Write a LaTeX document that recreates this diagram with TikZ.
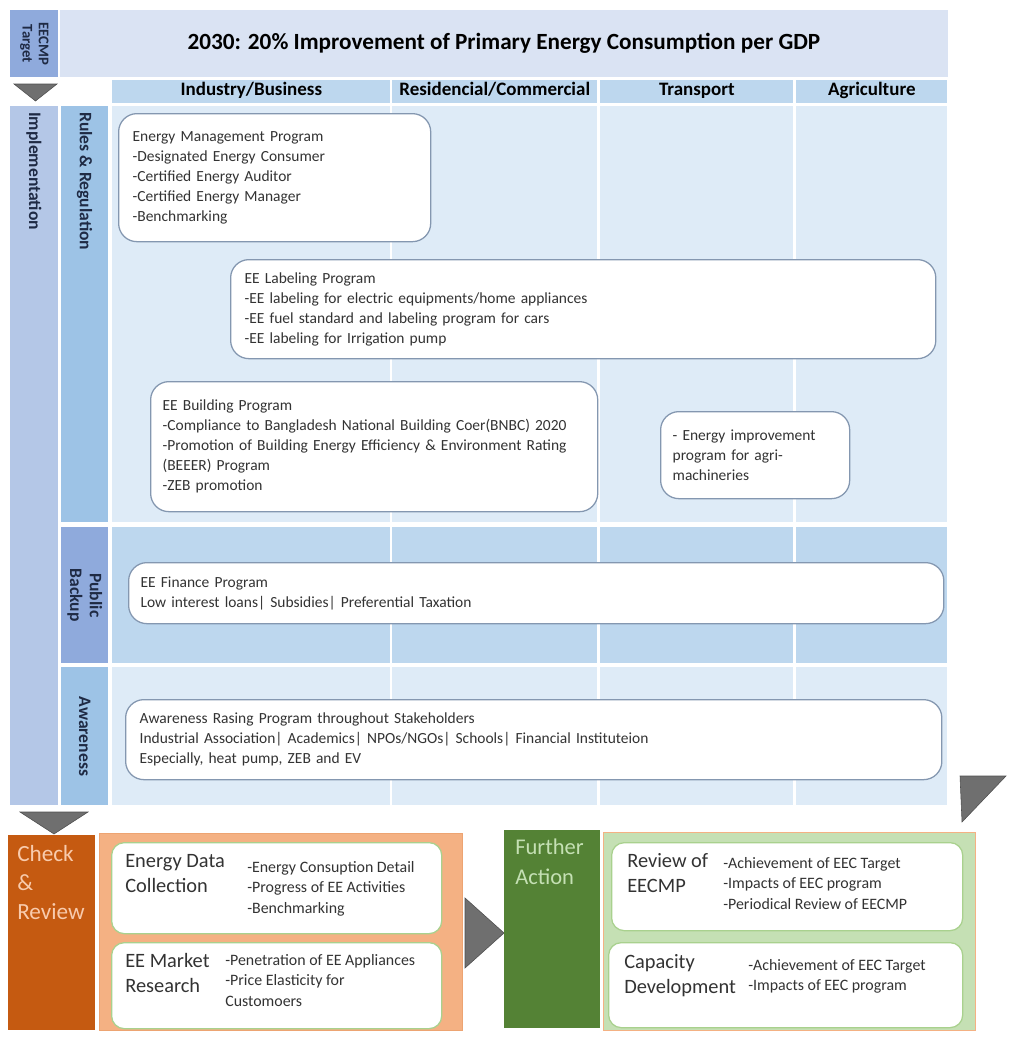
\documentclass[tikz,border=0pt]{standalone}
\usepackage{fontspec}
\setmainfont{Carlito}
\usepackage{tikz}
\usetikzlibrary{positioning, calc}
\definecolor{banner}{HTML}{DAE3F3}
\definecolor{targetblue}{HTML}{8FAADC}
\definecolor{headblue}{HTML}{BDD7EE}
\definecolor{cellblue}{HTML}{DEEBF7}
\definecolor{implblue}{HTML}{B4C7E7}
\definecolor{ruleblue}{HTML}{9DC3E6}
\definecolor{boxline}{HTML}{8497B0}
\definecolor{arrowgray}{HTML}{6F6F6F}
\definecolor{checkorange}{HTML}{C55A11}
\definecolor{checktext}{HTML}{F8CBAD}
\definecolor{salmon}{HTML}{F4B183}
\definecolor{actiongreen}{HTML}{548235}
\definecolor{palegreen}{HTML}{C5E0B4}
\definecolor{leafline}{HTML}{A9D18E}
\definecolor{inkgray}{HTML}{333333}
\definecolor{navyink}{HTML}{1F2A44}

\begin{document}
\begin{tikzpicture}[
        x=0.025cm, y=-0.025cm,
        cell/.style={rectangle, inner sep=0pt, anchor=north west},
        colhead/.style={cell, fill=headblue, minimum height=0.575cm, text height=0.7em, text depth=0.2em, font=\fontsize{13.5}{15}\selectfont\bfseries},
        vlabel/.style={rotate=-90, inner sep=0pt, align=center, text=navyink, font=\fontsize{12.5}{14}\selectfont\bfseries},
        prog/.style={rectangle, draw=boxline, fill=white, line width=0.9pt, rounded corners=13pt, anchor=north west, align=left, inner xsep=0.35cm, inner ysep=0pt, text=inkgray, font=\fontsize{11}{14.2}\selectfont},
        tri/.style={fill=arrowgray, draw=arrowgray!70!black, line width=0.4pt},
        subbox/.style={rectangle, draw=leafline, fill=white, line width=0.9pt, rounded corners=9pt, anchor=north west, inner sep=0pt},
        subhead/.style={anchor=north west, inner sep=0pt, align=left, text=inkgray, font=\fontsize{14.5}{18}\selectfont},
        sublist/.style={anchor=north west, inner sep=0pt, align=left, text=inkgray, font=\fontsize{11.3}{14.5}\selectfont}
    ]
        \useasboundingbox (0,0) rectangle (1012,1039);

        % target
        \node [cell, fill=targetblue, minimum width=1.2cm, minimum height=1.675cm] (target) at (10,10) {};
        \node [vlabel, font=\fontsize{10.5}{11.5}\selectfont\bfseries] (targettxt) at (target.center) {EECMP\\Target};
        \node [cell, fill=banner, minimum width=22.175cm, minimum height=1.675cm, font=\fontsize{16.5}{18}\selectfont\bfseries] (goal) at (60,10) {2030: 20\% Improvement of Primary Energy Consumption per GDP};
        \draw [tri] (14,84) -- (57,84) -- (35.5,101) -- cycle;

        % sectors
        \node [colhead, minimum width=6.95cm] (hind) at (112,80) {Industry/Business};
        \node [colhead, minimum width=5.125cm] (hres) at (392,80) {Residencial/Commercial};
        \node [colhead, minimum width=4.825cm] (htra) at (600,80) {Transport};
        \node [colhead, minimum width=3.775cm] (hagr) at (796,80) {Agriculture};

        \fill [cellblue] (112,106) rectangle (390,522);
        \fill [cellblue] (392,106) rectangle (597,522);
        \fill [cellblue] (600,106) rectangle (793,522);
        \fill [cellblue] (796,106) rectangle (947,522);
        \fill [headblue] (112,527) rectangle (390,663);
        \fill [headblue] (392,527) rectangle (597,663);
        \fill [headblue] (600,527) rectangle (793,663);
        \fill [headblue] (796,527) rectangle (947,663);
        \fill [cellblue] (112,667) rectangle (390,805);
        \fill [cellblue] (392,667) rectangle (597,805);
        \fill [cellblue] (600,667) rectangle (793,805);
        \fill [cellblue] (796,667) rectangle (947,805);

        % implementation
        \node [cell, fill=implblue, minimum width=1.2cm, minimum height=17.475cm] (impl) at (10,106) {};
        \node [vlabel, anchor=west] (impltxt) at (34,112) {Implementation};
        \node [cell, fill=ruleblue, minimum width=1.175cm, minimum height=10.4cm] (rules) at (61,106) {};
        \node [vlabel, anchor=west] (rulestxt) at (84.5,112) {Rules \& Regulation};
        \node [cell, fill=targetblue, minimum width=1.175cm, minimum height=3.4cm] (backup) at (61,527) {};
        \node [vlabel] (backuptxt) at (backup.center) {Public\\Backup};
        \node [cell, fill=ruleblue, minimum width=1.175cm, minimum height=3.45cm] (aware) at (61,667) {};
        \node [vlabel] (awaretxt) at (aware.center) {Awareness};

        \node [prog, text width=7.1cm, minimum height=3.2cm] (emp) at (118,113) {Energy Management Program\\-Designated Energy Consumer\\-Certified Energy Auditor\\-Certified Energy Manager\\-Benchmarking};
        \node [prog, text width=16.925cm, minimum height=2.475cm] (labeling) at (230,259) {EE Labeling Program\\-EE labeling for electric equipments/home appliances\\-EE fuel standard and labeling program for cars\\-EE labeling for Irrigation pump};
        \node [prog, inner xsep=0.3cm, text width=10.575cm, minimum height=3.25cm] (building) at (150,381) {EE Building Program\\-Compliance to Bangladesh National Building Coer(BNBC) 2020\\-Promotion of Building Energy Efficiency \& Environment Rating\\(BEEER) Program\\-ZEB promotion};
        \node [prog, inner xsep=0.3cm, text width=4.125cm, minimum height=2.175cm] (agri) at (660,411) {- Energy improvement\\program for agri-\\machineries};
        \node [prog, inner xsep=0.3cm, text width=19.775cm, minimum height=1.525cm] (finance) at (128,562) {EE Finance Program\\Low interest loans| Subsidies| Preferential Taxation};
        \node [prog, text width=19.7cm, minimum height=2cm] (raising) at (125,699) {Awareness Rasing Program throughout Stakeholders\\Industrial Association| Academics| NPOs/NGOs| Schools| Financial Instituteion\\Especially, heat pump, ZEB and EV};

        \draw [tri] (20,812) -- (88,812) -- (54,834) -- cycle;
        \draw [tri] (960,776) -- (1006,776) -- (962,822) -- cycle;

        % check & review
        \node [cell, fill=checkorange, minimum width=2.175cm, minimum height=4.875cm] (check) at (8,835) {};
        \node [anchor=north west, inner sep=0pt, align=left, text=checktext, font=\fontsize{16.5}{20.5}\selectfont] (checktxt) at ($(check.north west)+(9,10)$) {Check\\\&\\Review};
        \node [cell, fill=salmon, draw=salmon!85!checkorange, line width=0.6pt, minimum width=9.075cm, minimum height=4.925cm] (cpane) at (99,833) {};
        \node [subbox, minimum width=8.25cm, minimum height=2.275cm] (collect) at (111,842) {};
        \node [subhead] (collecthead) at ($(collect.north west)+(14,12)$) {Energy Data\\Collection};
        \node [sublist] (collectlist) at ($(collect.north west)+(136,19)$) {-Energy Consuption Detail\\-Progress of EE Activities\\-Benchmarking};
        \node [subbox, minimum width=8.25cm, minimum height=2.15cm] (market) at (111,942) {};
        \node [subhead] (markethead) at ($(market.north west)+(14,11)$) {EE Market\\Research};
        \node [sublist] (marketlist) at ($(market.north west)+(114,12)$) {-Penetration of EE Appliances\\-Price Elasticity for\\Customoers};

        \draw [tri] (465,898) -- (504,933) -- (465,968) -- cycle;

        % further action
        \node [cell, fill=actiongreen, minimum width=2.4cm, minimum height=4.95cm] (further) at (504,830) {};
        \node [anchor=north west, inner sep=0pt, align=left, text=palegreen, font=\fontsize{16}{21}\selectfont] (furthertxt) at ($(further.north west)+(11,9)$) {Further\\Action};
        \node [cell, fill=palegreen, draw=salmon, line width=0.6pt, minimum width=9.3cm, minimum height=4.95cm] (apane) at (603,832) {};
        \node [subbox, minimum width=8.775cm, minimum height=2.2cm] (review) at (611,842) {};
        \node [subhead] (reviewhead) at ($(review.north west)+(16,11)$) {Review of\\EECMP};
        \node [sublist] (reviewlist) at ($(review.north west)+(112,15)$) {-Achievement of EEC Target\\-Impacts of EEC program\\-Periodical Review of EECMP};
        \node [subbox, minimum width=8.85cm, minimum height=2.125cm] (capacity) at (608,942) {};
        \node [subhead] (capacityhead) at ($(capacity.north west)+(16,12)$) {Capacity\\Development};
        \node [sublist] (capacitylist) at ($(capacity.north west)+(140,17)$) {-Achievement of EEC Target\\-Impacts of EEC program};
    \end{tikzpicture}
\end{document}
